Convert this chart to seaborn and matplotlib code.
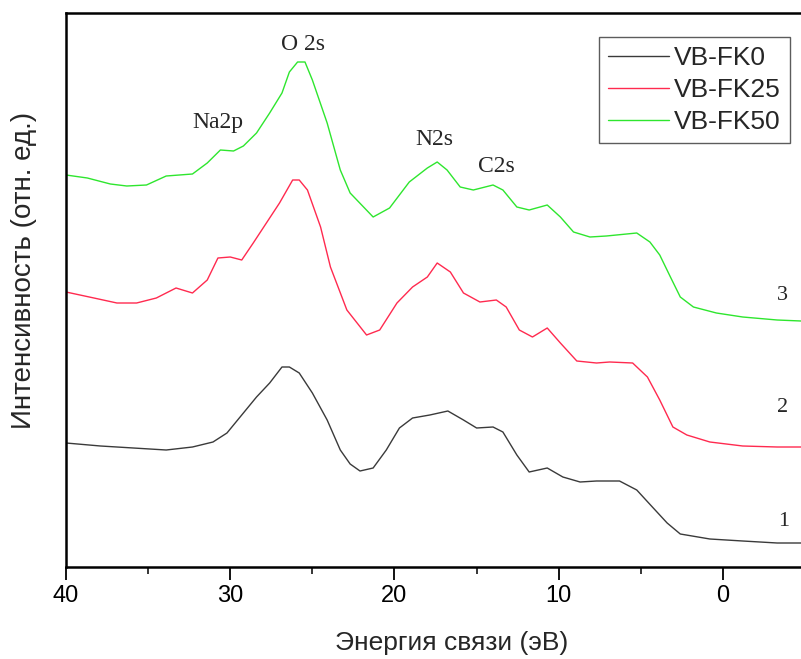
import seaborn as sns
import pandas as pd
import matplotlib.pyplot as plt
from matplotlib.ticker import MultipleLocator

# energies (eV) and intensities (arb. units)
e_fk0 = [40.0, 37.9, 35.9, 33.9, 32.3, 31.05, 30.2, 29.4, 28.4, 27.6, 26.85, 26.4, 25.8, 25.0,
         24.1, 23.3, 22.7, 22.1, 21.3, 20.5, 19.7, 18.9, 17.85, 16.75, 15.8, 15.0, 14.0, 13.4,
         12.55, 11.8, 10.7, 9.75, 8.7, 7.7, 6.3, 5.25, 4.3, 3.4, 2.6, 0.8, -1.2, -3.3, -4.75]
i_fk0 = [124, 121, 119, 117, 120, 125, 134, 150, 170, 184, 200, 200, 194, 174,
         147, 117, 103, 96, 99, 117, 139, 149, 152, 156, 147, 139, 140, 135,
         112, 95, 99, 90, 85, 86, 86, 77, 60, 44, 33, 28, 26, 24, 24]

e_fk25 = [40.0, 38.3, 36.9, 35.7, 34.5, 33.3, 32.3, 31.4, 30.75, 30.0, 29.3, 28.6, 27.8, 27.0,
          26.2, 25.8, 25.3, 24.5, 23.9, 22.9, 21.7, 20.9, 19.85, 18.9, 18.0, 17.4, 16.6, 15.8,
          14.8, 13.8, 13.2, 12.4, 11.6, 10.7, 9.9, 8.9, 7.7, 6.9, 5.5, 4.6, 3.85, 3.05, 2.2,
          0.8, -1.2, -3.3, -4.75]
i_fk25 = [275, 269, 264, 264, 269, 279, 274, 287, 309, 310, 307, 324, 344, 364,
          387, 387, 377, 340, 300, 257, 232, 237, 264, 280, 290, 304, 295, 274,
          265, 267, 260, 237, 230, 239, 224, 206, 204, 205, 204, 190, 167, 140, 132,
          125, 121, 120, 120]

e_fk50 = [40.0, 38.7, 37.3, 36.3, 35.1, 33.9, 32.3, 31.4, 30.6, 29.8, 29.2, 28.4, 27.6, 26.85,
          26.4, 25.9, 25.45, 25.0, 24.1, 23.3, 22.7, 21.3, 20.3, 19.1, 18.0, 17.4, 16.8, 16.0,
          15.2, 14.0, 13.4, 12.55, 11.8, 10.7, 9.9, 9.1, 8.1, 7.1, 5.25, 4.45, 3.85, 3.2, 2.6,
          1.8, 0.4, -1.2, -3.3, -4.75]
i_fk50 = [392, 389, 383, 381, 382, 391, 393, 404, 417, 416, 421, 434, 454, 474,
          495, 505, 505, 487, 444, 397, 374, 350, 359, 385, 399, 405, 397, 380,
          377, 382, 377, 360, 357, 362, 350, 335, 330, 331, 334, 325, 312, 290, 270,
          260, 254, 250, 247, 246]

samples = ['VB-FK0', 'VB-FK25', 'VB-FK50']
colors = {'VB-FK0': '#3a3a3a', 'VB-FK25': '#ff2a4f', 'VB-FK50': '#2ee62e'}

df = pd.concat([
    pd.DataFrame({'E': e_fk0, 'I': i_fk0, 'sample': 'VB-FK0'}),
    pd.DataFrame({'E': e_fk25, 'I': i_fk25, 'sample': 'VB-FK25'}),
    pd.DataFrame({'E': e_fk50, 'I': i_fk50, 'sample': 'VB-FK50'}),
])

sns.set_theme(style='ticks')
plt.rcParams['font.family'] = ['Liberation Sans', 'DejaVu Sans']

fig = plt.figure(figsize=(8.01, 6.59), dpi=100)
ax = fig.add_axes([66 / 801, 92 / 659, 1 - 66 / 801, 554 / 659])

sns.lineplot(data=df, x='E', y='I', hue='sample', hue_order=samples, palette=colors,
             sort=False, estimator=None, linewidth=1.0, ax=ax)

ax.set_xlim(40, -4.75)
ax.set_ylim(0, 554)
ax.xaxis.set_major_locator(MultipleLocator(10))
ax.xaxis.set_minor_locator(MultipleLocator(5))
ax.tick_params(axis='x', which='major', direction='out', length=9, width=1.3,
               labelsize=17, colors='black', pad=4)
ax.tick_params(axis='x', which='minor', direction='out', length=5, width=1.3)
ax.set_yticks([])
ax.spines['right'].set_visible(False)
for s in ['left', 'bottom', 'top']:
    ax.spines[s].set_linewidth(1.8)
    ax.spines[s].set_color('black')

ax.set_xlabel('Энергия связи (эВ)', fontsize=19)
ax.xaxis.set_label_coords(0.525, -0.116)
ax.set_ylabel('Интенсивность (отн. ед.)', fontsize=20)
ax.yaxis.set_label_coords(-0.039, 0.535)

# peak labels and curve numbers
serif = ['Liberation Serif', 'DejaVu Serif']
for txt, x, y in [('O 2s', 25.6, 517), ('Na2p', 30.75, 439), ('N2s', 17.6, 422), ('C2s', 13.8, 395)]:
    ax.text(x, y, txt, family=serif, fontsize=17, ha='center', va='baseline')
for txt, x, y in [('3', -3.65, 271), ('2', -3.6, 160), ('1', -3.7, 45)]:
    ax.text(x, y, txt, family=serif, fontsize=16, ha='center', va='center')

leg = ax.legend(loc='upper right', bbox_to_anchor=(0.985, 0.957), fontsize=19,
                frameon=True, fancybox=False, edgecolor='#333333', handlelength=2.3,
                handletextpad=0.2, borderpad=0.35, labelspacing=0.3, borderaxespad=0)
leg.get_frame().set_linewidth(1.0)
for line in leg.get_lines():
    line.set_linewidth(1.0)

fig.savefig('out.png', dpi=100)
